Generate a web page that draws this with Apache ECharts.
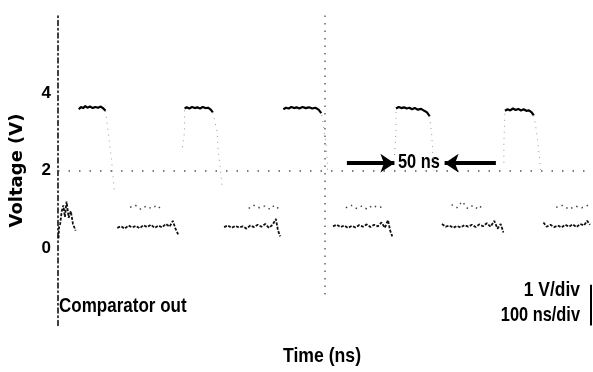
<!DOCTYPE html>
<html>
<head>
<meta charset="utf-8">
<script src="https://cdn.jsdelivr.net/npm/echarts@6/dist/echarts.min.js"></script>
<style>
html,body{margin:0;padding:0;background:#fff;}
#chart{width:593px;height:372px;}
</style>
</head>
<body>
<div id="chart"></div>
<script>
// ---- data (time in ns, voltage in V) ----
const yTickValues = [0, 2, 4];

const highPlateaus = [
  [[39,3.58],[43,3.64],[47,3.61],[51,3.66],[55,3.62],[60,3.65],[65,3.61],[70,3.64],[75,3.62],[80,3.65],[85,3.6],[89,3.54]],
  [[237,3.6],[241,3.63],[246,3.6],[251,3.64],[256,3.61],[261,3.63],[266,3.6],[271,3.64],[276,3.61],[281,3.62],[286,3.57],[290,3.5]],
  [[422,3.58],[427,3.62],[432,3.6],[437,3.64],[442,3.61],[447,3.63],[452,3.6],[458,3.64],[464,3.61],[470,3.63],[476,3.6],[482,3.62],[488,3.57],[493,3.48]],
  [[633,3.6],[638,3.64],[643,3.61],[648,3.63],[653,3.6],[658,3.62],[663,3.58],[668,3.61],[674,3.57],[680,3.59],[686,3.54],[691,3.5],[696,3.4]],
  [[837,3.54],[842,3.58],[847,3.55],[852,3.6],[857,3.56],[862,3.59],[867,3.55],[872,3.58],[877,3.54],[882,3.55],[887,3.5],[891,3.42]]
];

const edges = [
  [[89,3.54],[94,3.0],[100,2.3],[102,2.0],[106,1.4]],
  [[233,2.6],[237,3.0],[237,3.6]],
  [[290,3.5],[298,3.0],[300,2.5],[304,2.06],[307,1.6]],
  [[494,3.43],[502,2.7],[504,2.27],[505,1.9]],
  [[630,2.4],[633,3.0],[633,3.6]],
  [[696,3.4],[700,2.9],[702,2.4],[704,2.0]],
  [[835,2.2],[835,2.7],[837,3.54]],
  [[891,3.42],[894,3.2],[898,2.8],[902,2.27],[904,1.9]]
];

const lowRows = [
  [[1,0.25],[2,0.55],[4,0.62],[7,0.95],[10,1.1],[13,0.8],[16,1.2],[20,0.78],[24,0.95],[28,0.62],[33,0.45]],
  [[111,0.52],[118,0.56],[125,0.5],[132,0.58],[139,0.53],[146,0.57],[153,0.51],[160,0.59],[167,0.54],[174,0.6],[181,0.52],[188,0.58],[195,0.53],[202,0.62],[209,0.55],[215,0.7],[220,0.5],[225,0.35]],
  [[311,0.54],[318,0.58],[325,0.52],[332,0.57],[339,0.53],[346,0.56],[353,0.5],[360,0.58],[367,0.54],[374,0.6],[381,0.55],[388,0.62],[395,0.52],[402,0.6],[408,0.75],[412,0.45],[416,0.3]],
  [[515,0.56],[522,0.6],[529,0.54],[536,0.58],[543,0.52],[550,0.57],[557,0.53],[564,0.59],[571,0.55],[578,0.61],[585,0.54],[592,0.6],[599,0.56],[606,0.66],[612,0.52],[618,0.72],[622,0.45],[626,0.3]],
  [[719,0.62],[726,0.55],[733,0.58],[740,0.52],[747,0.57],[754,0.53],[761,0.59],[768,0.55],[775,0.6],[782,0.54],[789,0.61],[796,0.56],[803,0.64],[810,0.55],[817,0.7],[823,0.5],[829,0.62],[834,0.4]],
  [[909,0.66],[915,0.55],[922,0.6],[929,0.54],[936,0.58],[943,0.53],[950,0.6],[957,0.55],[964,0.61],[971,0.54],[978,0.62],[985,0.58],[991,0.7],[996,0.6]]
];

const upperRows = [
  [[135,1.05],[145,1.1],[155,1.0],[165,1.08],[175,1.02],[185,1.1],[194,1.0]],
  [[357,1.02],[367,1.1],[377,1.04],[387,1.08],[397,1.0],[405,1.1],[413,1.02]],
  [[539,1.04],[549,1.1],[559,1.02],[569,1.08],[579,1.0],[589,1.1],[600,1.04],[613,1.08]],
  [[737,1.12],[747,1.04],[757,1.2],[767,1.02],[777,1.1],[787,1.0],[798,1.15]],
  [[933,1.05],[945,1.1],[957,1.0],[969,1.08],[981,1.04],[996,1.12]]
];

const centerLine = [[500, 6], [500, -1.35]];
const refLevel = 2;
const rightBar = [[998, -0.95], [998, -2]];
const arrowRight = [[541, 2.19], [630, 2.19]];
const arrowLeft = [[820, 2.19], [724, 2.19]];

// ---- chart ----
const FONT = "'Liberation Sans', Arial, sans-serif";
const chart = echarts.init(document.getElementById('chart'));

const series = [];
highPlateaus.forEach(seg => series.push({
  type: 'line', data: seg, symbol: 'none', silent: true,
  lineStyle: { color: '#000', width: 2.2 }
}));
edges.forEach(seg => series.push({
  type: 'line', data: seg, symbol: 'none', silent: true,
  lineStyle: { color: '#999', width: 1, type: [1, 5] }
}));
lowRows.forEach(seg => series.push({
  type: 'line', data: seg, symbol: 'none', silent: true,
  lineStyle: { color: '#111', width: 1.8, type: [3, 1.5] }
}));
upperRows.forEach(seg => series.push({
  type: 'line', data: seg, symbol: 'none', silent: true,
  lineStyle: { color: '#444', width: 1.5, type: [1.5, 4] }
}));

series.push({
  type: 'line', data: [], symbol: 'none', silent: true,
  markLine: {
    silent: true, symbol: ['none', 'none'], animation: false,
    label: { show: false },
    data: [
      [{ coord: centerLine[0], lineStyle: { color: '#666', width: 1.5, type: [1.5, 6] } }, { coord: centerLine[1] }],
      [{ coord: [0, refLevel], lineStyle: { color: '#555', width: 1.5, type: [1.5, 9] } }, { coord: [1000, refLevel] }],
      [{ coord: rightBar[0], lineStyle: { color: '#000', width: 2, type: 'solid' } }, { coord: rightBar[1] }],
      [{ coord: arrowRight[0], symbol: 'none', lineStyle: { color: '#000', width: 4, type: 'solid' } }, { coord: arrowRight[1], symbol: 'arrow', symbolSize: [14, 14] }],
      [{ coord: arrowLeft[0], symbol: 'none', lineStyle: { color: '#000', width: 4, type: 'solid' } }, { coord: arrowLeft[1], symbol: 'arrow', symbolSize: [14, 14] }]
    ]
  }
});

function label(text, x, y, align, size, sx) {
  return {
    type: 'text', x: x, y: y, scaleX: sx, scaleY: 1, silent: true,
    style: { text: text, fontFamily: FONT, fontWeight: 'bold', fontSize: size, fill: '#000', align: align, verticalAlign: 'middle' }
  };
}

chart.setOption({
  animation: false,
  backgroundColor: '#fff',
  grid: { left: 52, right: 1, top: 15.5, bottom: 46.5, containLabel: false },
  xAxis: {
    type: 'value', min: 0, max: 1000,
    axisLine: { show: false }, axisTick: { show: false },
    axisLabel: { show: false }, splitLine: { show: false }
  },
  yAxis: {
    type: 'value', min: -2, max: 6, interval: 2,
    name: 'Voltage (V)', nameLocation: 'middle', nameGap: 32, nameRotate: 90,
    nameTextStyle: { fontFamily: "'DejaVu Sans', sans-serif", fontWeight: 'bold', fontSize: 18, color: '#000' },
    axisLine: { show: true, onZero: false, lineStyle: { color: '#000', width: 1.5, type: [5, 3, 1.5, 3] } },
    axisTick: { show: false },
    splitLine: { show: false },
    axisLabel: {
      margin: 7, color: '#000', fontWeight: 'bold', fontSize: 17, fontFamily: FONT,
      formatter: v => (yTickValues.indexOf(v) >= 0 ? String(v) : '')
    }
  },
  graphic: [
    label('Comparator out', 59, 306, 'left', 21, 0.81),
    label('1 V/div', 580, 290, 'right', 21, 0.83),
    label('100 ns/div', 580, 315, 'right', 21, 0.78),
    label('50 ns', 398, 162, 'left', 21, 0.78),
    label('Time (ns)', 322, 356, 'center', 21, 0.84)
  ],
  series: series
});
</script>
</body>
</html>
